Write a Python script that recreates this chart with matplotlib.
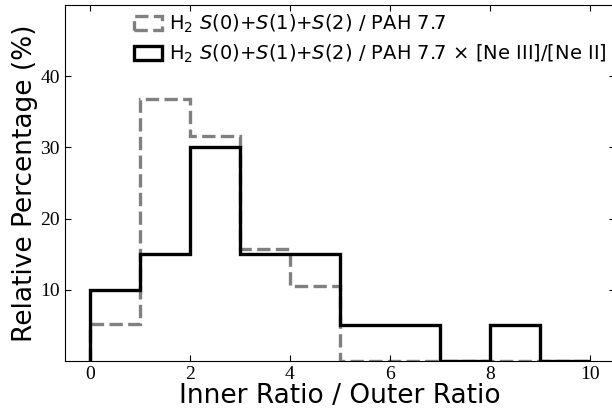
import matplotlib
matplotlib.use("Agg")
import matplotlib.pyplot as plt
from matplotlib.patches import Patch
import numpy as np

# bin edges of the inner/outer ratio histogram
edges = np.arange(0, 11, 1)
# percentage of sources per bin
pah_pct = [5.26, 36.84, 31.58, 15.79, 10.53, 0, 0, 0, 0, 0]
neon_pct = [10, 15, 30, 15, 15, 5, 5, 0, 5, 0]

lab_pah = r"H$_2$ $S(0)$+$S(1)$+$S(2)$ / PAH 7.7"
lab_neon = r"H$_2$ $S(0)$+$S(1)$+$S(2)$ / PAH 7.7 $\times$ [Ne III]/[Ne II]"

dash = (0, (4, 1.6))

fig = plt.figure(figsize=(6.12, 4.08), dpi=100)
ax = fig.add_axes([0.106, 0.115, 0.899, 0.873])

ax.stairs(pah_pct, edges, color="gray", lw=2.4, ls=dash, baseline=0)
ax.stairs(neon_pct, edges, color="black", lw=2.4, baseline=0)

ax.set_xlim(-0.5, 10.5)
ax.set_ylim(0, 50)
ax.set_xticks(np.arange(0, 11, 2))
ax.set_yticks([10, 20, 30, 40])
ax.tick_params(direction="in", top=True, right=True, length=4, width=0.8,
               labelsize=14)
for t in ax.get_xticklabels() + ax.get_yticklabels():
    t.set_fontfamily("Liberation Serif")

ax.set_xlabel("Inner Ratio / Outer Ratio", fontsize=19, labelpad=0)
ax.set_ylabel("Relative Percentage (%)", fontsize=19, labelpad=2)

handles = [Patch(facecolor="none", edgecolor="gray", lw=2.4, ls=dash),
           Patch(facecolor="none", edgecolor="black", lw=2.4)]
ax.legend(handles, [lab_pah, lab_neon], loc="upper left",
          bbox_to_anchor=(0.104, 1.01), frameon=False, fontsize=14,
          handlelength=1.45, handletextpad=0.35, labelspacing=0.4,
          borderaxespad=0.2)

fig.savefig("out.png", dpi=100)
